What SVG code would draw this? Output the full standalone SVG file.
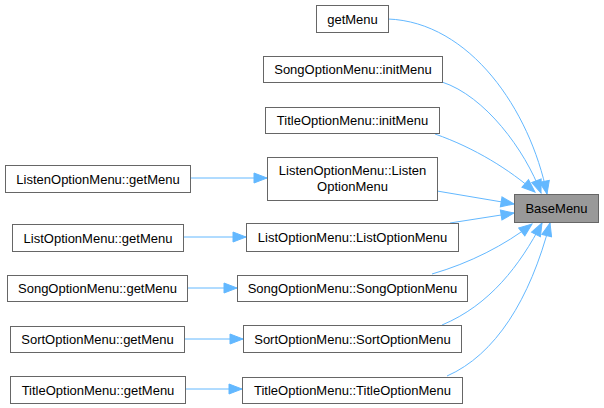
<svg xmlns="http://www.w3.org/2000/svg" width="604" height="408" viewBox="0 0 604 408">
<style>
.n rect{fill:#ffffff;stroke:#666666;stroke-width:1}
.n.hl rect{fill:#999999}
.n text{font-family:"Liberation Sans",Arial,sans-serif;font-size:13px;fill:#000000;text-anchor:middle}
.e path{fill:none;stroke:#63b8ff;stroke-width:1;marker-end:url(#ah)}
</style>
<defs>
<marker id="ah" markerUnits="userSpaceOnUse" markerWidth="16" markerHeight="12" refX="14" refY="6" orient="auto">
<polygon points="1,1 14,6 1,11" fill="#63b8ff" stroke="#63b8ff"/>
</marker>
</defs>
<rect width="604" height="408" fill="#ffffff"/>
<g id="connectors" class="e">
<path d="M388,19 C470,22 530,110 547,194"/>
<path d="M442,82 C485,96 525,150 541,193"/>
<path d="M435,134 C475,148 510,170 535,192"/>
<path d="M437,191 L514,204"/>
<path d="M450,223 L514,213"/>
<path d="M432,274 C470,263 505,245 532,224"/>
<path d="M442,325 C490,305 520,265 542,223"/>
<path d="M447,376 C495,355 530,300 550,223"/>
<path d="M190,178 L267,178"/>
<path d="M183,237 L246,237"/>
<path d="M187,288 L237,288"/>
<path d="M184,339 L243,339"/>
<path d="M185,389 L242,389"/>
</g>
<g id="BaseMenu" class="n hl"><rect x="514.5" y="194.5" width="84" height="28"/><text x="556.5" y="213">BaseMenu</text></g>
<g id="getMenu" class="n"><rect x="316.5" y="5.5" width="72" height="27"/><text x="352.5" y="23.5">getMenu</text></g>
<g id="SongOptionMenu_initMenu" class="n"><rect x="263.5" y="56.5" width="179" height="26"/><text x="353" y="74">SongOptionMenu::initMenu</text></g>
<g id="TitleOptionMenu_initMenu" class="n"><rect x="265.5" y="107.5" width="174" height="26"/><text x="352.5" y="125">TitleOptionMenu::initMenu</text></g>
<g id="ListenOptionMenu_ListenOptionMenu" class="n"><rect x="267.5" y="157.5" width="170" height="43"/><text x="352.5" y="175">ListenOptionMenu::Listen</text><text x="352.5" y="191">OptionMenu</text></g>
<g id="ListenOptionMenu_getMenu" class="n"><rect x="5.5" y="165.5" width="185" height="27"/><text x="98" y="183.5">ListenOptionMenu::getMenu</text></g>
<g id="ListOptionMenu_getMenu" class="n"><rect x="12.5" y="224.5" width="171" height="27"/><text x="98" y="242.5">ListOptionMenu::getMenu</text></g>
<g id="ListOptionMenu_ListOptionMenu" class="n"><rect x="246.5" y="223.5" width="212" height="28"/><text x="352.5" y="242">ListOptionMenu::ListOptionMenu</text></g>
<g id="SongOptionMenu_getMenu" class="n"><rect x="7.5" y="275.5" width="180" height="26"/><text x="97.5" y="293">SongOptionMenu::getMenu</text></g>
<g id="SongOptionMenu_SongOptionMenu" class="n"><rect x="237.5" y="275.5" width="230" height="26"/><text x="352.5" y="293">SongOptionMenu::SongOptionMenu</text></g>
<g id="SortOptionMenu_getMenu" class="n"><rect x="10.5" y="326.5" width="174" height="26"/><text x="97.5" y="344">SortOptionMenu::getMenu</text></g>
<g id="SortOptionMenu_SortOptionMenu" class="n"><rect x="243.5" y="325.5" width="218" height="27"/><text x="352.5" y="343.5">SortOptionMenu::SortOptionMenu</text></g>
<g id="TitleOptionMenu_getMenu" class="n"><rect x="10.5" y="376.5" width="175" height="27"/><text x="98" y="394.5">TitleOptionMenu::getMenu</text></g>
<g id="TitleOptionMenu_TitleOptionMenu" class="n"><rect x="242.5" y="377.5" width="220" height="26"/><text x="352.5" y="395">TitleOptionMenu::TitleOptionMenu</text></g>
</svg>
